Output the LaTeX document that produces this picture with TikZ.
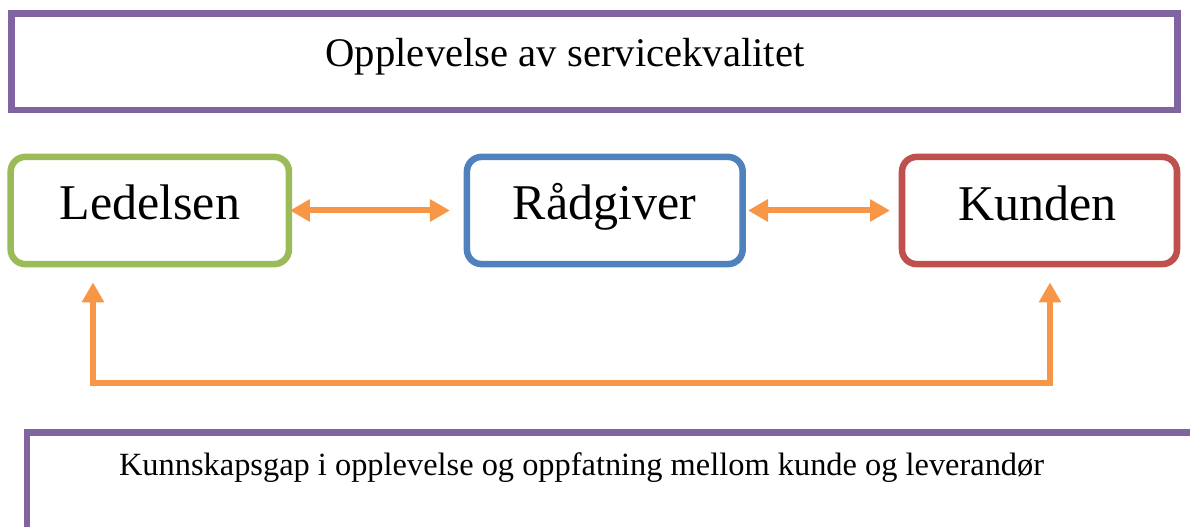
\documentclass[tikz,border=0pt]{standalone}
\usepackage{fontspec}
\setmainfont{Liberation Serif}
\usetikzlibrary{arrows.meta,calc}
\definecolor{cpurple}{HTML}{8064A2}
\definecolor{cgreen}{HTML}{9BBB59}
\definecolor{cblue}{HTML}{4F81BD}
\definecolor{cred}{HTML}{C0504D}
\definecolor{corange}{HTML}{F79646}
\tikzset{
  boxbase/.style={draw, line width=4.9pt, outer sep=0pt, inner sep=0pt, rectangle},
  wide/.style={boxbase, draw=cpurple, line join=miter},
  roundbox/.style={boxbase, rounded corners=11pt, minimum height=80.4pt},
  boxtxt/.style={anchor=base, inner sep=0pt, font=\fontsize{37.5pt}{40pt}\selectfont},
  conn/.style={draw=corange, line width=4.7pt, line join=miter,
    {Triangle[length=15pt,width=16pt]}-{Triangle[length=15pt,width=16pt]}},
}
\begin{document}
\begin{tikzpicture}[x=0.75pt,y=-0.75pt]
\useasboundingbox (0,0) rectangle (1190,527);
\clip (0,0) rectangle (1190,527);
% top box
\node[wide, minimum width=874.35pt, minimum height=72.2pt] (T) at (594.6,61.85) {};
\node[anchor=base, inner sep=0pt, font=\fontsize{30.5pt}{33pt}\selectfont] (Tt) at (565,66.7) {Opplevelse av servicekvalitet};
% three boxes
\node[roundbox, draw=cgreen, minimum width=208.7pt] (L) at (149.8,210.5) {};
\node[boxtxt] (Lt) at (149.8,220) {Ledelsen};
\node[roundbox, draw=cblue, minimum width=206.8pt] (R) at (604.8,210.5) {};
\node[boxtxt] (Rt) at (604.3,220) {Rådgiver};
\node[roundbox, draw=cred, minimum width=206.25pt] (K) at (1039.5,210.5) {};
\node[boxtxt] (Kt) at (1037.5,221) {Kunden};
% arrows between boxes
\draw[conn, line width=4.5pt] ([xshift=0.75pt]L.east) -- ([xshift=-12.75pt]R.west);
\draw[conn, line width=4.5pt] ([xshift=4pt]R.east) -- ([xshift=-9pt]K.west);
% bottom connector
\draw[conn] ([shift={(82.3,18.3)}]L.south west) -- ++(0,100.5) -| ([shift={(148,18.3)}]K.south west);
% bottom box
\node[wide, minimum width=875pt, minimum height=73pt] (B) at (610.3,481.35) {};
\node[anchor=base, inner sep=0pt, font=\fontsize{24.3pt}{27pt}\selectfont] (Bt) at (581.6,475) {Kunnskapsgap i opplevelse og oppfatning mellom kunde og leverandør};
\end{tikzpicture}
\end{document}
